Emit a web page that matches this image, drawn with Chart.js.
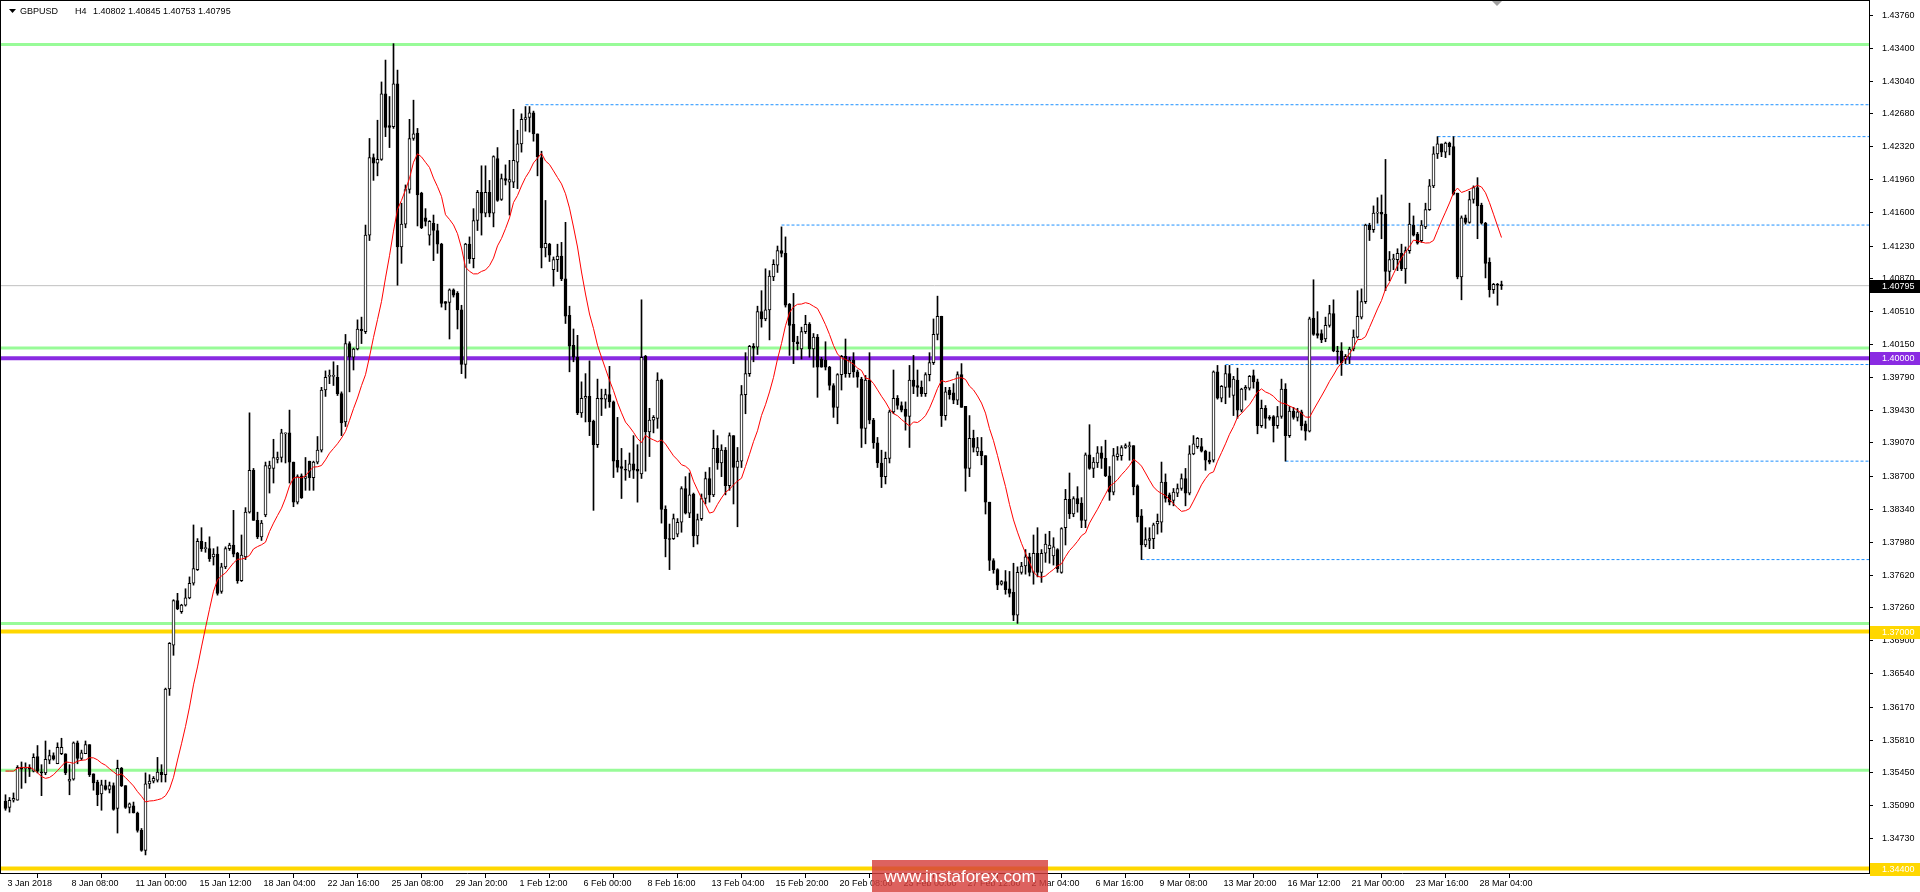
<!DOCTYPE html>
<html><head><meta charset="utf-8">
<script src="https://cdn.jsdelivr.net/npm/chart.js@4.4.1/dist/chart.umd.min.js"></script>
<style>html,body{margin:0;padding:0;background:#fff;overflow:hidden}canvas{display:block}</style>
</head><body>
<canvas id="c" width="1920" height="892"></canvas>
<script>
// ---- GBPUSD H4 candles ----
const open = [
1.3514,1.3507,1.3515,1.3515,1.3551,1.3550,1.3551,1.3547,1.3563,1.3546,
1.3545,1.3559,1.3564,1.3555,1.3566,1.3566,1.3536,1.3538,1.3578,1.3561,
1.3566,1.3576,1.3544,1.3535,1.3522,1.3531,1.3527,1.3531,1.3506,1.3550,
1.3531,1.3507,1.3509,1.3501,1.3482,1.3460,1.3533,1.3536,1.3537,1.3546,
1.3543,1.3637,1.3685,1.3734,1.3722,1.3729,1.3737,1.3753,1.3768,1.3799,
1.3791,1.3791,1.3782,1.3785,1.3744,1.3771,1.3791,1.3795,1.3786,1.3756,
1.3782,1.3831,1.3877,1.3822,1.3804,1.3828,1.3879,1.3879,1.3889,1.3891,
1.3917,1.3918,1.3886,1.3842,1.3871,1.3868,1.3887,1.3869,1.3886,1.3899,
1.3965,1.3980,1.3980,1.3979,1.3961,1.3930,1.4016,1.4001,1.4010,1.4032,
1.4029,1.4135,1.4220,1.4214,1.4218,1.4290,1.4255,1.4254,1.4301,1.4122,
1.4147,1.4185,1.4241,1.4247,1.4181,1.4154,1.4135,1.4148,1.4140,1.4125,
1.4062,1.4061,1.4075,1.4071,1.4053,1.3993,1.4125,1.4109,1.4151,1.4182,
1.4159,1.4182,1.4159,1.4219,1.4174,1.4197,1.4193,1.4193,1.4215,1.4235,
1.4262,1.4264,1.4269,1.4246,1.4220,1.4121,1.4125,1.4097,1.4108,1.4112,
1.4087,1.4047,1.4014,1.4001,1.3940,1.3956,1.3958,1.3931,1.3905,1.3956,
1.3955,1.3960,1.3952,1.3888,1.3881,1.3878,1.3876,1.3884,1.3878,1.3873,
1.4002,1.3919,1.3932,1.3934,1.3976,1.3834,1.3802,1.3802,1.3807,1.3820,
1.3857,1.3830,1.3851,1.3805,1.3824,1.3846,1.3868,1.3850,1.3901,1.3885,
1.3899,1.3860,1.3915,1.3880,1.3887,1.3960,1.3983,1.4013,1.4012,1.4051,
1.4043,1.4053,1.4089,1.4102,1.4118,1.4115,1.4059,1.4037,1.4018,1.4010,
1.4029,1.4037,1.4010,1.4023,1.3999,1.3998,1.3990,1.3970,1.3946,1.3982,
1.4002,1.3983,1.3998,1.3985,1.3977,1.3923,1.3976,1.3932,1.3907,1.3885,
1.3870,1.3890,1.3941,1.3956,1.3948,1.3944,1.3936,1.3976,1.3970,1.3968,
1.3961,1.3982,1.3995,1.4026,1.4046,1.3937,1.3965,1.3962,1.3954,1.3982,
1.3947,1.3879,1.3912,1.3897,1.3898,1.3893,1.3842,1.3778,1.3768,1.3752,
1.3755,1.3747,1.3743,1.3718,1.3765,1.3772,1.3782,1.3765,1.3786,1.3765,
1.3786,1.3791,1.3783,1.3790,1.3765,1.3814,1.3845,1.3829,1.3846,1.3841,
1.3822,1.3894,1.3879,1.3885,1.3896,1.3890,1.3871,1.3853,1.3892,1.3893,
1.3902,1.3903,1.3904,1.3860,1.3827,1.3795,1.3800,1.3802,1.3818,1.3820,
1.3864,1.3850,1.3844,1.3852,1.3857,1.3868,1.3852,1.3895,1.3903,1.3903,
1.3898,1.3888,1.3888,1.3985,1.3956,1.3968,1.3983,1.3959,1.3976,1.3943,
1.3966,1.3967,1.3981,1.3974,1.3926,1.3945,1.3935,1.3936,1.3926,1.3936,
1.3966,1.3915,1.3942,1.3935,1.3941,1.3928,1.3920,1.4044,1.4027,1.4027,
1.4021,1.4036,1.4049,1.4008,1.4008,1.3999,1.4001,1.4010,1.4023,1.4045,
1.4062,1.4146,1.4141,1.4159,1.4160,1.4158,1.4095,1.4108,1.4108,1.4115,
1.4098,1.4118,1.4146,1.4136,1.4129,1.4144,1.4163,1.4189,1.4224,1.4235,
1.4226,1.4236,1.4232,1.4181,1.4089,1.4154,1.4149,1.4174,1.4187,1.4168,
1.4148,1.4105,1.4075,1.4081,1.40802];
const high = [
1.3521,1.3518,1.3523,1.3553,1.3557,1.3556,1.3554,1.3566,1.3575,1.3554,
1.3580,1.3570,1.3567,1.3578,1.3583,1.3566,1.3554,1.3579,1.3580,1.3570,
1.3580,1.3576,1.3544,1.3537,1.3537,1.3537,1.3535,1.3534,1.3559,1.3551,
1.3531,1.3512,1.3513,1.3502,1.3484,1.3545,1.3543,1.3541,1.3562,1.3554,
1.3638,1.3688,1.3735,1.3742,1.3730,1.3747,1.3760,1.3817,1.3802,1.3814,
1.3798,1.3804,1.3791,1.3793,1.3775,1.3793,1.3797,1.3833,1.3787,1.3806,
1.3836,1.3940,1.3879,1.3831,1.3822,1.3886,1.3887,1.3911,1.3897,1.3922,
1.3918,1.3943,1.3886,1.3872,1.3873,1.3891,1.3887,1.3887,1.3914,1.3968,
1.3986,1.3987,1.3996,1.3992,1.3963,1.4026,1.4018,1.4011,1.4042,1.4045,
1.4146,1.4241,1.4224,1.4261,1.4303,1.4327,1.4287,1.4345,1.4316,1.4170,
1.4190,1.4262,1.4283,1.4252,1.4182,1.4164,1.4151,1.4157,1.4147,1.4126,
1.4062,1.4076,1.4076,1.4073,1.4058,1.4126,1.4133,1.4164,1.4184,1.4211,
1.4211,1.4195,1.4222,1.4231,1.4202,1.4212,1.4217,1.4273,1.4250,1.4268,
1.4276,1.4276,1.4271,1.4246,1.4227,1.4173,1.4126,1.4111,1.4125,1.4127,
1.4149,1.4057,1.4032,1.4025,1.3974,1.3983,1.3997,1.3932,1.3977,1.3966,
1.3966,1.3991,1.3953,1.3935,1.3901,1.3888,1.3896,1.3915,1.3905,1.4064,
1.4003,1.3945,1.3937,1.3984,1.3977,1.3838,1.3818,1.3829,1.3824,1.3859,
1.3870,1.3874,1.3852,1.3829,1.3851,1.3875,1.3880,1.3921,1.3915,1.3905,
1.3902,1.3918,1.3915,1.3902,1.3970,1.4006,1.4014,1.4016,1.4057,1.4074,
1.4098,1.4096,1.4108,1.4123,1.4144,1.4133,1.4060,1.4071,1.4024,1.4034,
1.4047,1.4039,1.4027,1.4026,1.4001,1.4018,1.3991,1.3972,1.3983,1.4003,
1.4021,1.4001,1.4006,1.3987,1.3979,1.3981,1.4006,1.3934,1.3913,1.3899,
1.3897,1.3943,1.3987,1.3959,1.3952,1.3952,1.3992,1.4003,1.3987,1.3975,
1.3984,1.4006,1.4043,1.4068,1.4046,1.3968,1.3968,1.3972,1.3985,1.3994,
1.3947,1.3937,1.3921,1.3913,1.3913,1.3893,1.3842,1.3780,1.3769,1.3756,
1.3767,1.3766,1.3775,1.3771,1.3776,1.3790,1.3786,1.3806,1.3814,1.3790,
1.3807,1.3810,1.3803,1.3791,1.3814,1.3856,1.3874,1.3848,1.3859,1.3847,
1.3896,1.3927,1.3891,1.3903,1.3903,1.3910,1.3881,1.3901,1.3903,1.3904,
1.3906,1.3908,1.3904,1.3861,1.3834,1.3814,1.3814,1.3819,1.3829,1.3886,
1.3873,1.3852,1.3857,1.3862,1.3873,1.3879,1.3904,1.3915,1.3913,1.3912,
1.3899,1.3897,1.3986,1.3992,1.3970,1.3992,1.3992,1.3980,1.3989,1.3967,
1.3970,1.3981,1.3987,1.3977,1.3954,1.3948,1.3937,1.3937,1.3947,1.3977,
1.3972,1.3947,1.3946,1.3945,1.3943,1.3931,1.4045,1.4086,1.4051,1.4031,
1.4045,1.4058,1.4064,1.4013,1.4017,1.4004,1.4012,1.4031,1.4074,1.4076,
1.4147,1.4148,1.4167,1.4176,1.4179,1.4218,1.4117,1.4114,1.4120,1.4125,
1.4122,1.4170,1.4156,1.4138,1.4151,1.4170,1.4196,1.4232,1.4243,1.4235,
1.4237,1.4237,1.4243,1.4181,1.4156,1.4157,1.4183,1.4189,1.4198,1.4170,
1.4149,1.4110,1.4082,1.4082,1.40845];
const low = [
1.3504,1.3502,1.3513,1.3515,1.3528,1.3534,1.3541,1.3546,1.3545,1.3520,
1.3543,1.3555,1.3559,1.3555,1.3565,1.3543,1.3521,1.3537,1.3555,1.3559,
1.3566,1.3541,1.3526,1.3509,1.3504,1.3526,1.3523,1.3504,1.3479,1.3530,
1.3506,1.3501,1.3501,1.3480,1.3459,1.3455,1.3528,1.3534,1.3535,1.3535,
1.3535,1.3630,1.3674,1.3724,1.3720,1.3728,1.3736,1.3751,1.3767,1.3788,
1.3787,1.3777,1.3773,1.3740,1.3742,1.3769,1.3789,1.3782,1.3753,1.3755,
1.3779,1.3830,1.3822,1.3802,1.3800,1.3826,1.3852,1.3863,1.3885,1.3886,
1.3885,1.3863,1.3837,1.3840,1.3846,1.3855,1.3855,1.3855,1.3884,1.3897,
1.3958,1.3972,1.3970,1.3959,1.3915,1.3925,1.3963,1.3987,1.4009,1.4016,
1.4027,1.4129,1.4195,1.4200,1.4217,1.4243,1.4231,1.4252,1.4080,1.4104,
1.4143,1.4181,1.4239,1.4145,1.4142,1.4145,1.4124,1.4107,1.4115,1.4056,
1.4053,1.4021,1.4067,1.4032,1.3983,1.3978,1.4104,1.4099,1.4140,1.4135,
1.4155,1.4155,1.4144,1.4172,1.4173,1.4190,1.4157,1.4187,1.4186,1.4226,
1.4249,1.4248,1.4238,1.4200,1.4099,1.4111,1.4106,1.4079,1.4095,1.4085,
1.4038,1.3985,1.3996,1.3938,1.3935,1.3930,1.3915,1.3833,1.3902,1.3937,
1.3945,1.3946,1.3869,1.3875,1.3846,1.3866,1.3869,1.3868,1.3842,1.3868,
1.3876,1.3892,1.3918,1.3923,1.3819,1.3782,1.3768,1.3801,1.3804,1.3809,
1.3829,1.3825,1.3793,1.3796,1.3822,1.3840,1.3842,1.3848,1.3878,1.3870,
1.3850,1.3855,1.3840,1.3815,1.3880,1.3939,1.3980,1.3996,1.4004,1.4034,
1.4041,1.4020,1.4085,1.4094,1.4111,1.4056,1.4003,1.3994,1.4009,1.3999,
1.4027,1.4001,1.3990,1.3957,1.3990,1.3987,1.3965,1.3935,1.3928,1.3965,
1.3979,1.3979,1.3979,1.3968,1.3902,1.3906,1.3928,1.3901,1.3880,1.3858,
1.3862,1.3885,1.3939,1.3944,1.3941,1.3921,1.3902,1.3961,1.3958,1.3958,
1.3958,1.3975,1.3993,1.4020,1.3925,1.3932,1.3955,1.3950,1.3949,1.3946,
1.3854,1.3870,1.3897,1.3893,1.3883,1.3829,1.3767,1.3764,1.3746,1.3751,
1.3741,1.3738,1.3712,1.3709,1.3763,1.3763,1.3761,1.3752,1.3760,1.3754,
1.3776,1.3775,1.3773,1.3765,1.3764,1.3795,1.3824,1.3826,1.3831,1.3814,
1.3814,1.3878,1.3869,1.3880,1.3879,1.3870,1.3844,1.3850,1.3888,1.3888,
1.3901,1.3888,1.3850,1.3820,1.3779,1.3793,1.3791,1.3791,1.3807,1.3809,
1.3842,1.3839,1.3838,1.3848,1.3855,1.3838,1.3850,1.3894,1.3901,1.3897,
1.3877,1.3884,1.3886,1.3955,1.3952,1.3950,1.3957,1.3937,1.3934,1.3941,
1.3954,1.3965,1.3967,1.3917,1.3924,1.3923,1.3932,1.3908,1.3923,1.3934,
1.3887,1.3913,1.3933,1.3931,1.3921,1.3910,1.3919,1.4025,1.4022,1.4017,
1.4018,1.4034,1.4007,1.3994,1.3981,1.3994,1.3994,1.4008,1.4022,1.4043,
1.4060,1.4129,1.4138,1.4148,1.4131,1.4074,1.4085,1.4097,1.4096,1.4096,
1.4082,1.4115,1.4134,1.4125,1.4127,1.4142,1.4162,1.4187,1.4219,1.4221,
1.4220,1.4223,1.4179,1.4087,1.4064,1.4147,1.4148,1.4170,1.4131,1.4147,
1.4088,1.4067,1.4071,1.4058,1.40753];
const close = [
1.3506,1.3515,1.3517,1.3551,1.3549,1.3551,1.3549,1.3562,1.3547,1.3545,
1.3560,1.3564,1.3560,1.3573,1.3573,1.3545,1.3538,1.3578,1.3561,1.3567,
1.3576,1.3543,1.3534,1.3521,1.3532,1.3527,1.3531,1.3505,1.3550,1.3531,
1.3507,1.3511,1.3501,1.3482,1.3460,1.3533,1.3536,1.3539,1.3546,1.3543,
1.3637,1.3687,1.3734,1.3725,1.3729,1.3737,1.3753,1.3769,1.3799,1.3791,
1.3791,1.3780,1.3785,1.3742,1.3771,1.3791,1.3795,1.3785,1.3756,1.3784,
1.3831,1.3877,1.3822,1.3804,1.3819,1.3882,1.3882,1.3891,1.3891,1.3918,
1.3918,1.3886,1.3842,1.3870,1.3847,1.3870,1.3869,1.3886,1.3899,1.3965,
1.3979,1.3980,1.3980,1.3961,1.3929,1.4016,1.4001,1.4010,1.4032,1.4030,
1.4135,1.4220,1.4214,1.4218,1.4290,1.4253,1.4253,1.4301,1.4122,1.4147,
1.4185,1.4241,1.4246,1.4179,1.4143,1.4150,1.4150,1.4140,1.4125,1.4060,
1.4060,1.4075,1.4069,1.4053,1.3993,1.4125,1.4109,1.4151,1.4182,1.4159,
1.4182,1.4159,1.4221,1.4173,1.4197,1.4195,1.4196,1.4217,1.4235,1.4262,
1.4264,1.4269,1.4246,1.4221,1.4121,1.4126,1.4113,1.4108,1.4112,1.4087,
1.4046,1.4013,1.4001,1.3940,1.3956,1.3958,1.3930,1.3905,1.3956,1.3955,
1.3960,1.3952,1.3887,1.3880,1.3879,1.3877,1.3884,1.3877,1.3876,1.4001,
1.3919,1.3932,1.3935,1.3976,1.3834,1.3802,1.3801,1.3824,1.3820,1.3857,
1.3830,1.3850,1.3805,1.3823,1.3846,1.3868,1.3850,1.3901,1.3885,1.3899,
1.3860,1.3915,1.3880,1.3887,1.3960,1.3983,1.4013,1.4011,1.4051,1.4043,
1.4053,1.4090,1.4103,1.4118,1.4115,1.4058,1.4036,1.4018,1.4016,1.4029,
1.4037,1.4010,1.4023,1.3990,1.3990,1.3990,1.3970,1.3946,1.3982,1.4002,
1.3983,1.3998,1.3985,1.3979,1.3923,1.3976,1.3932,1.3907,1.3885,1.3870,
1.3890,1.3941,1.3956,1.3948,1.3943,1.3936,1.3976,1.3969,1.3968,1.3961,
1.3982,1.3995,1.4026,1.4046,1.3937,1.3963,1.3960,1.3954,1.3982,1.3946,
1.3879,1.3912,1.3902,1.3902,1.3893,1.3842,1.3778,1.3768,1.3751,1.3755,
1.3746,1.3742,1.3718,1.3765,1.3772,1.3782,1.3765,1.3786,1.3765,1.3786,
1.3796,1.3795,1.3793,1.3769,1.3813,1.3845,1.3829,1.3846,1.3840,1.3822,
1.3894,1.3879,1.3886,1.3896,1.3890,1.3871,1.3853,1.3893,1.3895,1.3902,
1.3904,1.3904,1.3859,1.3826,1.3795,1.3801,1.3802,1.3817,1.3821,1.3864,
1.3846,1.3842,1.3853,1.3857,1.3868,1.3852,1.3895,1.3906,1.3912,1.3898,
1.3888,1.3886,1.3985,1.3956,1.3969,1.3983,1.3968,1.3977,1.3943,1.3966,
1.3968,1.3980,1.3974,1.3926,1.3945,1.3934,1.3934,1.3926,1.3936,1.3966,
1.3915,1.3942,1.3935,1.3941,1.3926,1.3920,1.4043,1.4026,1.4025,1.4020,
1.4036,1.4049,1.4008,1.4007,1.3995,1.4002,1.4010,1.4023,1.4046,1.4062,
1.4146,1.4141,1.4159,1.4160,1.4158,1.4095,1.4108,1.4109,1.4115,1.4098,
1.4118,1.4147,1.4135,1.4126,1.4146,1.4163,1.4189,1.4224,1.4235,1.4226,
1.4236,1.4232,1.4180,1.4089,1.4154,1.4149,1.4174,1.4187,1.4167,1.4148,
1.4104,1.4075,1.4081,1.4080,1.40795];

const maHead = [1.3547,1.3547,1.3547,1.3550,1.3551,1.3551,1.3551,1.3549,1.3545,1.3541,1.3539,1.3540];
const maPeriod = 12;

// tick labels
const timeLabels = ["3 Jan 2018","8 Jan 08:00","11 Jan 00:00","15 Jan 12:00","18 Jan 04:00","22 Jan 16:00",
 "25 Jan 08:00","29 Jan 20:00","1 Feb 12:00","6 Feb 00:00","8 Feb 16:00","13 Feb 04:00","15 Feb 20:00",
 "20 Feb 08:00","23 Feb 00:00","27 Feb 12:00","2 Mar 04:00","6 Mar 16:00","9 Mar 08:00","13 Mar 20:00",
 "16 Mar 12:00","21 Mar 00:00","23 Mar 16:00","28 Mar 04:00"];
const barsPerTimeLabel = 16;
const priceTicks = [1.43760,1.43400,1.43040,1.42680,1.42320,1.41960,1.41600,1.41230,1.40870,1.40510,
 1.40150,1.39790,1.39430,1.39070,1.38700,1.38340,1.37980,1.37620,1.37260,1.36900,1.36540,1.36170,
 1.35810,1.35450,1.35090,1.34730,1.34370];

// horizontal levels
const greenLevels = [1.4344, 1.4011, 1.3709, 1.3548];
const yellowLevels = [1.37000, 1.34400];
const purpleLevel = 1.40000;
const currentPrice = 1.40795;
const dashLevels = [1.4278, 1.4243, 1.4146, 1.3993, 1.3887, 1.3779];
const dashStartBars = [130, 358, 194, 305, 320, 284];

const symbolTitle = "GBPUSD";
const periodTitle = "H4";
const watermark = "www.instaforex.com";

// ---------------- layout ----------------
const FONT = "'Liberation Sans', Arial, sans-serif";
const N = close.length;
const BAR_PX = 4, PLOT_RIGHT = 1869, PLOT_BOTTOM = 873;
const xMin = -5.5 / BAR_PX, xMax = xMin + PLOT_RIGHT / BAR_PX;
const PX_PER_PRICE = 9115.4;
const yMax = 1.4376 + 15.4 / PX_PER_PRICE, yMin = yMax - PLOT_BOTTOM / PX_PER_PRICE;

const wicks = [], bodies = [], bodyColors = [];
for (let i = 0; i < N; i++) {
  wicks.push({x: i, y: [low[i], high[i]]});
  bodies.push({x: i, y: [Math.min(open[i], close[i]), Math.max(open[i], close[i])]});
  bodyColors.push(close[i] >= open[i] ? '#ffffff' : '#000000');
}
const ma = [];
for (let i = 0; i < N; i++) {
  if (i < maPeriod) { ma.push({x: i, y: maHead[i]}); continue; }
  let s = 0; for (let k = i - maPeriod; k < i; k++) s += close[k];
  ma.push({x: i, y: s / maPeriod});
}
function hline(price, color, width, startX, dash, order) {
  return {type: 'line', data: [{x: startX, y: price}, {x: xMax, y: price}], borderColor: color,
    borderWidth: width, borderDash: dash || [], pointRadius: 0, fill: false, order: order, tension: 0};
}
const datasets = [];
datasets.push({type: 'line', data: ma, borderColor: '#ff0000', borderWidth: 1, pointRadius: 0, fill: false, order: 0, tension: 0});
datasets.push({type: 'bar', data: bodies, backgroundColor: bodyColors, borderColor: '#000', borderWidth: 1,
  borderSkipped: false, barThickness: 3, minBarLength: 1, grouped: false, order: 1});
datasets.push({type: 'bar', data: wicks, backgroundColor: '#000', borderWidth: 0, barThickness: 1,
  minBarLength: 1, grouped: false, order: 2});
dashLevels.forEach((p, k) => datasets.push(hline(p, '#1e90ff', 1, dashStartBars[k], [3, 2], 3)));
datasets.push(hline(currentPrice, '#c0c0c0', 1, xMin, null, 4));
greenLevels.forEach(p => datasets.push(hline(p, '#98fb98', 3, xMin, null, 5)));
yellowLevels.forEach(p => datasets.push(hline(p, '#ffd700', 4, xMin, null, 5)));
datasets.push(hline(purpleLevel, '#8a2be2', 4, xMin, null, 5));

const decor = {
  id: 'decor',
  afterDraw(chart) {
    const ctx = chart.ctx, y = chart.scales.y, a = chart.chartArea;
    ctx.save();
    // frame
    ctx.fillStyle = '#000';
    ctx.fillRect(0, 0, 1, a.bottom);
    ctx.fillRect(0, 0, a.right, 1);
    // price boxes on the axis
    const boxes = [[currentPrice, '#000000', '#ffffff'], [purpleLevel, '#8a2be2', '#ffffff'],
      [yellowLevels[0], '#ffd700', '#ffffff'], [yellowLevels[1], '#ffd700', '#ffffff']];
    ctx.font = '9px ' + FONT; ctx.textBaseline = 'middle'; ctx.textAlign = 'left';
    boxes.forEach(([p, bg, fg]) => {
      const py = Math.round(y.getPixelForValue(p));
      ctx.fillStyle = bg; ctx.fillRect(a.right + 1, py - 6, 1920 - a.right - 1, 13);
      ctx.fillStyle = fg; ctx.fillText(p.toFixed(5), a.right + 13, py + 0.5);
    });
    // title
    ctx.fillStyle = '#000';
    ctx.beginPath(); ctx.moveTo(9, 9); ctx.lineTo(16, 9); ctx.lineTo(12.5, 13); ctx.closePath(); ctx.fill();
    ctx.textBaseline = 'alphabetic';
    ctx.fillText(symbolTitle, 20, 14);
    ctx.fillText(periodTitle, 75, 14);
    ctx.fillText([open[N-1], high[N-1], low[N-1], close[N-1]].map(v => v.toFixed(5)).join(' '), 93, 14);
    // chart shift marker
    ctx.fillStyle = '#a0a0a0';
    ctx.beginPath(); ctx.moveTo(1492, 1); ctx.lineTo(1502, 1); ctx.lineTo(1497, 6); ctx.closePath(); ctx.fill();
    // watermark
    ctx.fillStyle = 'rgba(214,64,60,0.82)';
    ctx.fillRect(872, 860, 176, 32);
    ctx.fillStyle = '#ffffff'; ctx.font = '17px ' + FONT; ctx.textAlign = 'center'; ctx.textBaseline = 'middle';
    ctx.fillText(watermark, 960, 877);
    ctx.restore();
  }
};

new Chart(document.getElementById('c'), {
  type: 'bar',
  data: {datasets},
  options: {
    responsive: false, animation: false, devicePixelRatio: 1, events: [],
    layout: {padding: 0},
    plugins: {legend: {display: false}, tooltip: {enabled: false}},
    scales: {
      x: {type: 'linear', position: 'bottom', min: xMin, max: xMax, offset: false,
        grid: {drawOnChartArea: false, drawTicks: true, tickLength: 5, color: '#000'},
        border: {display: true, color: '#000', width: 1},
        ticks: {align: 'start', maxRotation: 0, minRotation: 0, autoSkip: false, padding: 0, labelOffset: 2,
          color: '#000', font: {family: FONT, size: 9},
          callback: v => timeLabels[Math.round(v / barsPerTimeLabel)] || ''},
        afterBuildTicks: s => { s.ticks = timeLabels.map((_, k) => ({value: k * barsPerTimeLabel})); },
        afterFit: s => { s.height = 892 - PLOT_BOTTOM; s.paddingLeft = 0; s.paddingRight = 0; }
      },
      y: {type: 'linear', position: 'right', min: yMin, max: yMax,
        grid: {drawOnChartArea: false, drawTicks: true, tickLength: 4, color: '#000'},
        border: {display: true, color: '#000', width: 1},
        ticks: {color: '#000', padding: 9, crossAlign: 'near', font: {family: FONT, size: 9},
          callback: v => Number(v).toFixed(5)},
        afterBuildTicks: s => { s.ticks = priceTicks.map(v => ({value: v})); },
        afterFit: s => { s.width = 1920 - PLOT_RIGHT; s.paddingTop = 0; s.paddingBottom = 0; }
      }
    }
  },
  plugins: [decor]
});
</script>
</body></html>
